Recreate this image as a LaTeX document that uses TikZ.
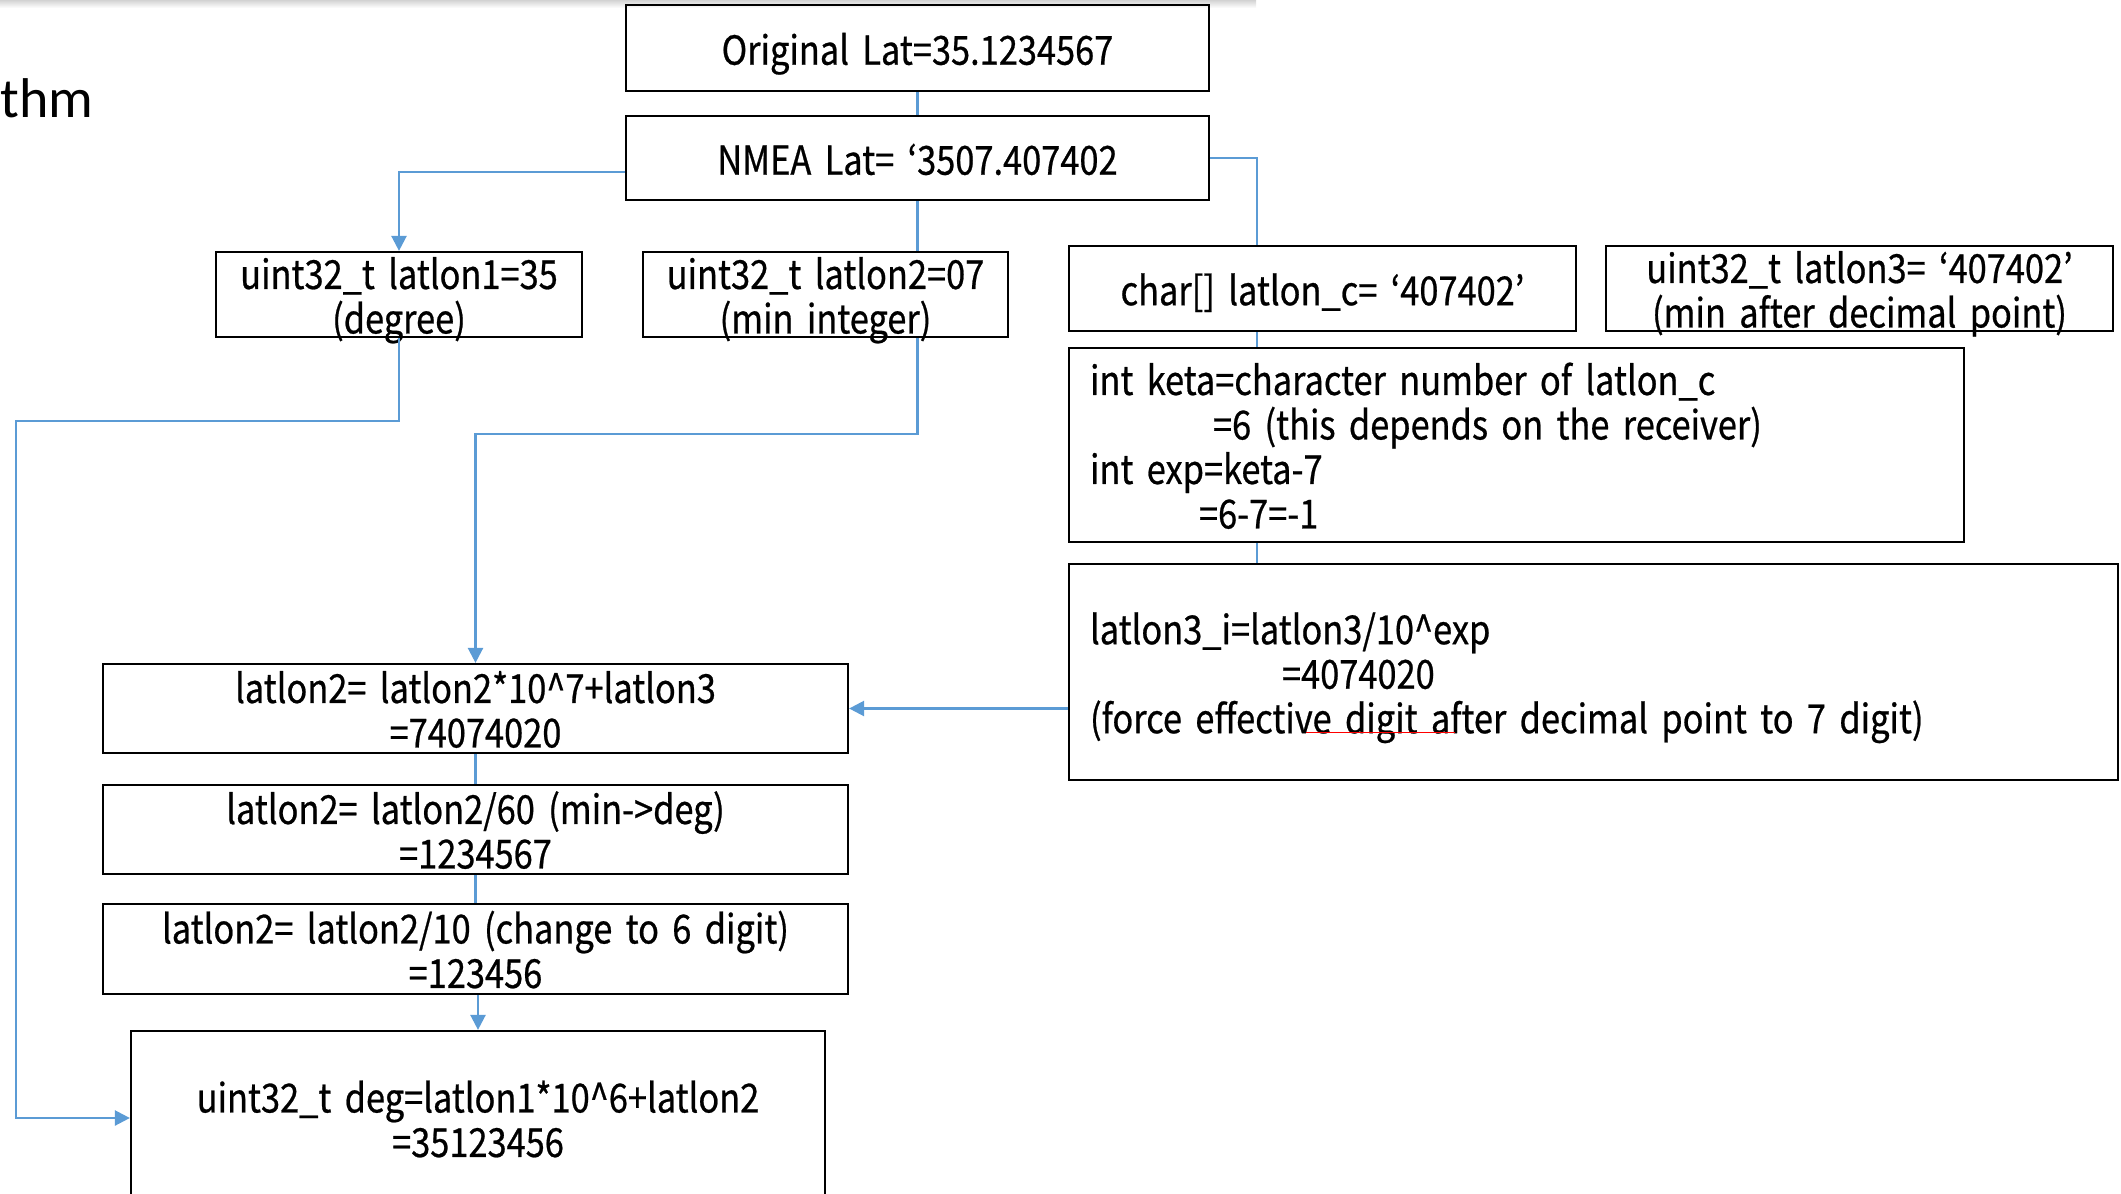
\documentclass[tikz,border=0pt]{standalone}
\usepackage{fontspec}
\setmainfont{Noto Sans CJK JP}[FakeStretch=0.86, FakeBold=0.6]
\newfontfamily\slidefont{Carlito}
\usetikzlibrary{arrows.meta}

\definecolor{linkblue}{HTML}{5B9BD5}

\tikzset{
  box/.style={draw=black, line width=1.1pt, inner sep=0pt, align=center,
    text width=#1, font=\fontsize{20}{22.25}\selectfont,
    execute at begin node={\rule{0pt}{21.7pt}},
    execute at end node={\rule[-5pt]{0pt}{0pt}}},
  notebox/.style={box=#1, align=left, inner xsep=10.5pt},
  twoline/.style={text height=18.2pt, text depth=23.75pt},
  link/.style={draw=linkblue, line width=1.2pt},
  linkarrow/.style={link, -{Triangle[width=7.5pt,length=7.5pt]}}
}

\begin{document}
\begin{tikzpicture}[x=0.5pt, y=-0.5pt]
  \clip (0,0) rectangle (2121,1194);
  \shade[top color=gray!35, bottom color=white] (0,0) rectangle (1256,8);
  \node[anchor=base west, inner sep=0pt,
    font=\slidefont\fontsize{28}{34}\selectfont] (title) at (0,117) {thm};

  % top of the chain
  \node[box=291.5pt, minimum height=43pt] (orig) at (917.5,48)
    {Original Lat=35.1234567};
  \node[box=291.5pt, minimum height=42pt] (nmea) at (917.5,158)
    {NMEA Lat= ‘3507.407402};

  % split into parts
  \node[box=183pt, twoline, minimum height=42.5pt] (lat1) at (399,294.5)
    {uint32\_t latlon1=35\\(degree)};
  \node[box=182.5pt, twoline, minimum height=42.5pt] (lat2) at (825.5,294.5)
    {uint32\_t latlon2=07\\(min integer)};
  \node[box=253.5pt, minimum height=42.5pt] (latc) at (1322.5,288.5)
    {char[] latlon\_c= ‘407402’};
  \node[box=253.5pt, twoline, minimum height=42.5pt] (lat3) at (1859.5,288.5)
    {uint32\_t latlon3= ‘407402’\\(min after decimal point)};

  % digits after the decimal point
  \node[notebox=426.5pt, minimum height=97pt] (keta) at (1516.5,445)
    {int keta=character number of latlon\_c\\
     \hspace*{61.5pt}=6 (this depends on the receiver)\\
     int exp=keta-7\\
     \hspace*{54.5pt}=6-7=-1};
  \node[notebox=503.5pt, minimum height=108pt] (lat3i) at (1593.5,672)
    {latlon3\_i=latlon3/10\textasciicircum exp\\
     \hspace*{96pt}=4074020\\
     (force effective digit after decimal point to 7 digit)};
  \draw[red, line width=0.6pt] (1306,732.5) -- (1455,732.5);

  % minutes to degrees
  \node[box=372.5pt, twoline, minimum height=44.5pt] (mul) at (475.5,708.5)
    {latlon2= latlon2*10\textasciicircum 7+latlon3\\=74074020};
  \node[box=372.5pt, twoline, minimum height=44.5pt] (div60) at (475.5,829.5)
    {latlon2= latlon2/60 (min->deg)\\=1234567};
  \node[box=372.5pt, twoline, minimum height=45pt] (div10) at (475.5,949)
    {latlon2= latlon2/10 (change to 6 digit)\\=123456};
  \node[box=347pt, minimum height=87pt] (deg) at (478,1118)
    {uint32\_t deg=latlon1*10\textasciicircum 6+latlon2\\=35123456};

  \coordinate (leftrail) at (16,421);

  \draw[link] (orig) -- (nmea);
  \draw[linkarrow] ([yshift=-7pt]nmea.west) -| (lat1.north);
  \draw[link] (nmea.south) -- (nmea.south |- lat2.north);
  \draw[link] (nmea.east) -| ([xshift=94.5pt]latc.north west);
  \draw[link] ([xshift=94.5pt]latc.south west) -- ([xshift=94.5pt]keta.north west);
  \draw[link] ([xshift=94.5pt]keta.south west) -- ([xshift=94.5pt]lat3i.north west);
  \draw[linkarrow] (lat3i.west |- mul.east) -- (mul.east);
  \draw[linkarrow] (lat1.south) |- (leftrail) |- (deg.west);
  \draw[linkarrow] (nmea.south |- lat2.south) -- ++(0,96) -| (mul.north);
  \draw[link] (mul) -- (div60);
  \draw[link] (div60) -- (div10);
  \draw[linkarrow] (deg.north |- div10.south) -- (deg.north);
\end{tikzpicture}
\end{document}
